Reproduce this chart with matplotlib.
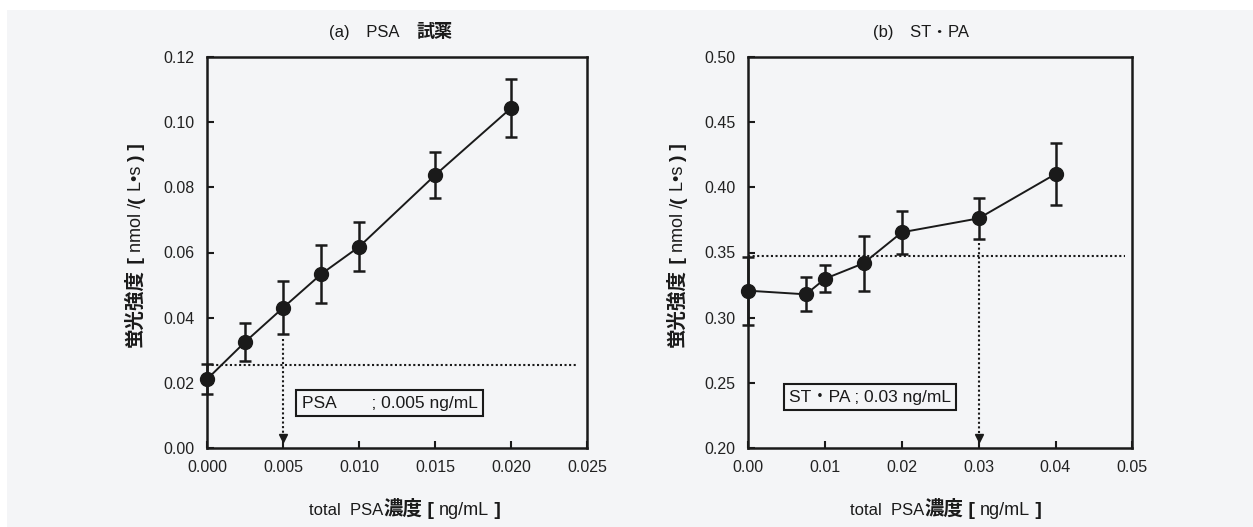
import numpy as np
import matplotlib
matplotlib.use("Agg")
from matplotlib import pyplot as plt
from matplotlib.patches import Rectangle

plt.rcParams['font.family'] = ['Liberation Sans', 'Noto Sans CJK JP', 'DejaVu Sans']
plt.rcParams['font.size'] = 11.5

# (a) PSA reagent
xa = [0.0, 0.0025, 0.005, 0.0075, 0.010, 0.015, 0.020]
ya = [0.0212, 0.0326, 0.0431, 0.0534, 0.0618, 0.0838, 0.1044]
ea = [0.0046, 0.0058, 0.0082, 0.0090, 0.0075, 0.0070, 0.0090]
base_a = 0.0255      # blank + 3SD line
lod_a = 0.005

# (b) ST-PA
xb = [0.0, 0.0075, 0.010, 0.015, 0.020, 0.030, 0.040]
yb = [0.3207, 0.3179, 0.3299, 0.3417, 0.3655, 0.3762, 0.4102]
eb = [0.0260, 0.0130, 0.0103, 0.0210, 0.0165, 0.0155, 0.0235]
base_b = 0.3473
lod_b = 0.03

ink = '#1a1a1a'
bg = '#f4f5f7'
W, H = 1253, 527

fig = plt.figure(figsize=(12.53, 5.27), dpi=100, facecolor='white')
fig.patches.append(Rectangle((7 / W, 0), 1 - 7 / W, 1 - 10 / H, transform=fig.transFigure,
                             facecolor=bg, edgecolor='none', zorder=-10))

axA = fig.add_axes([207.3 / W, 1 - 448 / H, 380 / W, 391 / H])
axB = fig.add_axes([748.3 / W, 1 - 448 / H, 384 / W, 391 / H])


def style(ax):
    ax.set_facecolor('none')
    for s in ax.spines.values():
        s.set_linewidth(1.8)
        s.set_color(ink)
    ax.tick_params(direction='in', length=5, width=1.5, color=ink, labelcolor='#222222',
                   labelsize=11.5, top=False, right=False)
    ax.tick_params(axis='x', pad=9)
    ax.tick_params(axis='y', pad=9)


def panel(ax, x, y, e, base, lod, xmax, xline, ymin, ymax, xticks, yticks, xfmt, yfmt, box_xy, box_text):
    style(ax)
    ax.errorbar(x, y, yerr=e, fmt='-o', color=ink, lw=1.4, ms=10, elinewidth=1.8,
                capsize=4.5, capthick=1.8, zorder=3, clip_on=False)
    ax.plot([0, xline], [base, base], color=ink, lw=1.5, ls=(0, (1, 1.2)), zorder=2)
    i = x.index(lod)
    top = y[i] - e[i] - 0.012 * (ymax - ymin)
    ax.plot([lod, lod], [top, ymin + 0.02 * (ymax - ymin)], color=ink, lw=1.5, ls=(0, (1, 1.2)))
    ax.plot([lod], [ymin + 0.025 * (ymax - ymin)], marker='v', color=ink, ms=6, clip_on=False)
    ax.set_xlim(0, xmax)
    ax.set_ylim(ymin, ymax)
    ax.set_xticks(xticks)
    ax.set_yticks(yticks)
    ax.set_xticklabels([xfmt.format(v) for v in xticks])
    ax.set_yticklabels([yfmt.format(v) for v in yticks])
    ax.text(box_xy[0], box_xy[1], box_text, ha='left', va='center', fontsize=12.5, color=ink,
            bbox=dict(boxstyle='square,pad=0.3', facecolor='none', edgecolor=ink, lw=1.5))


panel(axA, xa, ya, ea, base_a, lod_a, 0.025, 0.0244, 0.0, 0.12,
      [0, 0.005, 0.010, 0.015, 0.020, 0.025], np.arange(0, 0.121, 0.02),
      '{:.3f}', '{:.2f}', (0.0062, 0.0138), 'PSA\u3000\u3000; 0.005 ng/mL')
panel(axB, xb, yb, eb, base_b, lod_b, 0.05, 0.049, 0.20, 0.50,
      [0, 0.01, 0.02, 0.03, 0.04, 0.05], np.arange(0.20, 0.501, 0.05),
      '{:.2f}', '{:.2f}', (0.0053, 0.239), 'ST・PA ; 0.03 ng/mL')

fig.canvas.draw()
r = fig.canvas.get_renderer()


def hrow(pieces, xc, yb_px):
    ts = [fig.text(0, 1 - yb_px / H, s, ha='left', va='baseline', fontweight=w,
                   fontsize=sz, color=ink) for s, w, sz in pieces]
    ws = [t.get_window_extent(r).width for t in ts]
    x = xc - sum(ws) / 2
    for t, w in zip(ts, ws):
        t.set_x(x / W)
        x += w


def vrow(pieces, xb_px, yc):
    ts = [fig.text(xb_px / W, 0, s, ha='left', va='baseline', rotation=90,
                   rotation_mode='anchor', fontweight=w, fontsize=sz, color=ink)
          for s, w, sz in pieces]
    hs = [t.get_window_extent(r).height for t in ts]
    y = (H - yc) - sum(hs) / 2
    for t, h in zip(ts, hs):
        t.set_y(y / H)
        y += h


hrow([('(a)\u3000PSA\u3000', 'normal', 12), ('試薬', 'bold', 13)], 391, 37)
hrow([('(b)\u3000ST・PA', 'normal', 12)], 921, 37)

xl = [('total  PSA', 'normal', 12), ('濃度', 'bold', 14), (' [ ', 'bold', 14),
      ('ng/mL', 'normal', 13), (' ]', 'bold', 14)]
hrow(xl, 405, 515)
hrow(xl, 946, 515)

yl = [('蛍光強度', 'bold', 14), (' [ ', 'bold', 14), ('nmol /', 'normal', 13),
      ('(', 'bold', 14), (' L\u2022s ', 'normal', 13), (')', 'bold', 14), (' ]', 'bold', 14)]
vrow(yl, 141, 245)
vrow(yl, 683, 245)

fig.savefig('out.png', dpi=100, facecolor=fig.get_facecolor())
